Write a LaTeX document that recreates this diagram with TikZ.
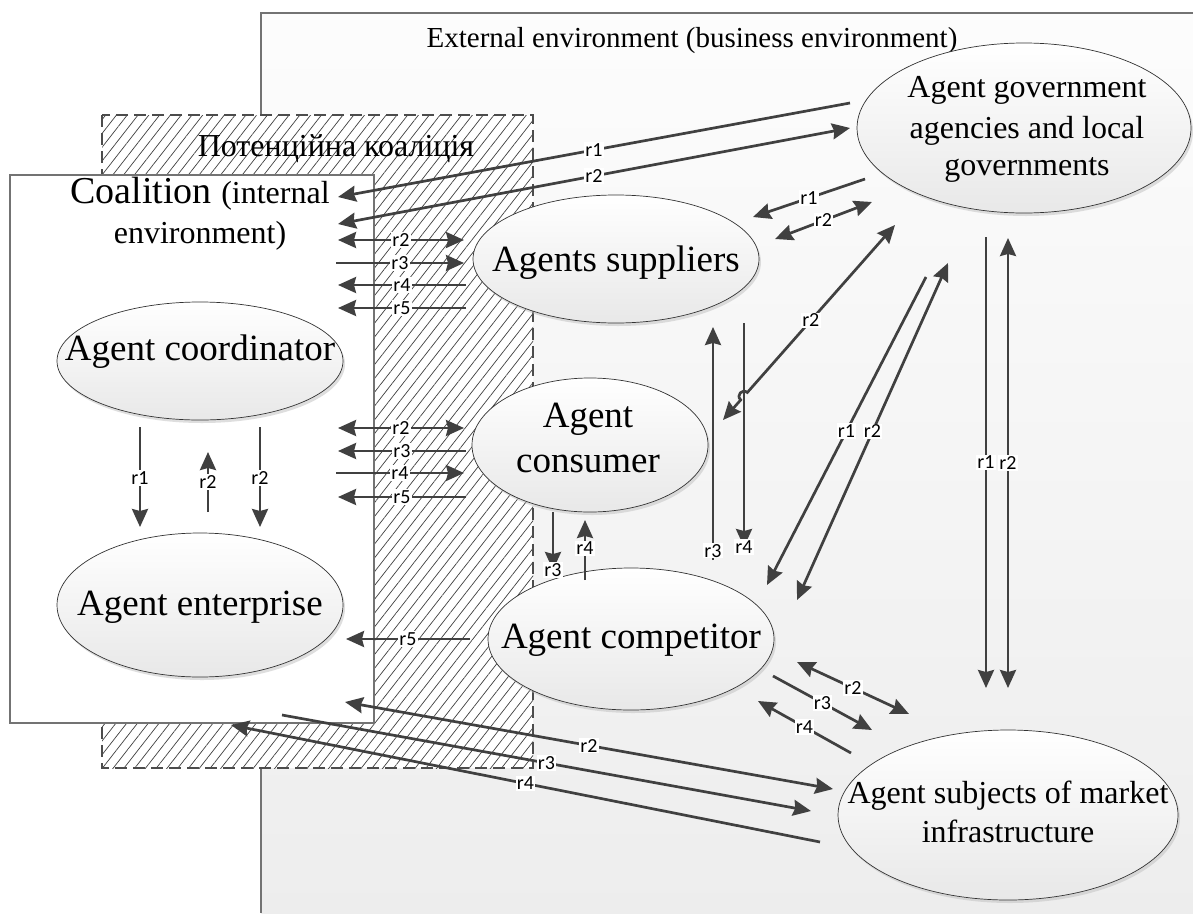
\documentclass[tikz,border=0pt]{standalone}
\usepackage{fontspec}
\setmainfont{Liberation Serif}
\newfontfamily\lblfont{Carlito}
\usetikzlibrary{shapes.geometric,arrows.meta,patterns.meta,shadows}
\definecolor{arr}{HTML}{404040}
\begin{document}
\begin{tikzpicture}[x=1pt,y=-1pt,
  >={Stealth[length=18pt,width=16pt,inset=2pt]},
  conn/.style={draw=arr,line width=2.7pt},
  lbl/.style={fill=white,inner sep=1.2pt,font=\lblfont\fontsize{20}{20}\selectfont,text=black},
  agent/.style={ellipse,draw=black!80,line width=0.7pt,top color=white,bottom color=black!9,inner sep=0pt,
    drop shadow={shadow xshift=2pt,shadow yshift=-3pt,fill=black!25,opacity=0.5}},
  bigtxt/.style={font=\fontsize{37}{44}\selectfont,inner sep=0pt,anchor=base},
  midtxt/.style={font=\fontsize{32}{39}\selectfont,inner sep=0pt,anchor=base}]
\useasboundingbox (0,0) rectangle (1193,913);

% external environment
\fill[top color=black!1,bottom color=black!7] (261,13) rectangle (1193,913);
\draw[black!55,line width=1.2pt] (261,913) -- (261,13) -- (1193,13);
\node[font=\fontsize{29}{29}\selectfont,inner sep=0pt,anchor=base] (extT) at (692,47) {External environment (business environment)};

% potential coalition
\path[preaction={fill=white},pattern={Lines[angle=52,distance=8.5pt,line width=0.7pt]},pattern color=black!75]
  (102,115) rectangle (533,768);
\draw[black!70,line width=1.5pt,dash pattern=on 12pt off 6pt] (102,115) rectangle (533,768);
\node[font=\fontsize{32}{32}\selectfont,inner sep=0pt,anchor=base] (potT) at (336,156) {Потенційна коаліція};

% coalition
\draw[black!55,line width=1.1pt,fill=white] (10,175) rectangle (374,723);
\node[inner sep=0pt,anchor=base] (coalT1) at (200,203) {\fontsize{38}{38}\selectfont Coalition \fontsize{32}{32}\selectfont(internal};
\node[inner sep=0pt,anchor=base,font=\fontsize{32}{32}\selectfont] (coalT2) at (200,243) {environment)};

% agents
\node[agent,minimum width=286pt,minimum height=118pt] (coord) at (200,361) {};
\node[bigtxt] (coordT) at (200,360) {Agent coordinator};
\node[agent,minimum width=286pt,minimum height=144pt] (ent) at (200,605) {};
\node[bigtxt] (entT) at (200,615) {Agent enterprise};
\node[agent,minimum width=286pt,minimum height=128pt] (sup) at (616,259) {};
\node[bigtxt] (supT) at (616,271) {Agents suppliers};
\node[agent,minimum width=236pt,minimum height=134pt] (cons) at (590,445) {};
\node[bigtxt] (consT1) at (588,427) {Agent};
\node[bigtxt] (consT2) at (588,472) {consumer};
\node[agent,minimum width=286pt,minimum height=142pt] (comp) at (631,639) {};
\node[bigtxt] (compT) at (631,648) {Agent competitor};
\node[agent,minimum width=334pt,minimum height=170pt] (gov) at (1024,128) {};
\node[midtxt] (govT1) at (1027,97) {Agent government};
\node[midtxt] (govT2) at (1027,138) {agencies and local};
\node[midtxt] (govT3) at (1027,175) {governments};
\node[agent,minimum width=340pt,minimum height=170pt] (mkt) at (1008,815) {};
\node[midtxt] (mktT1) at (1008,803) {Agent subjects of market};
\node[midtxt] (mktT2) at (1008,842) {infrastructure};

% connector end points
\coordinate (gA1) at (850,103);  \coordinate (cA1) at (338,197);
\coordinate (gA2) at (850,128);  \coordinate (cA2) at (338,224);
\coordinate (cS2) at (338,240);  \coordinate (sC2) at (464,240);
\coordinate (cS3) at (336,263);  \coordinate (sC3) at (464,263);
\coordinate (cS4) at (338,285);  \coordinate (sC4) at (466,285);
\coordinate (cS5) at (338,308);  \coordinate (sC5) at (466,308);
\coordinate (cK2) at (338,428);  \coordinate (kC2) at (464,428);
\coordinate (cK3) at (338,451);  \coordinate (kC3) at (466,451);
\coordinate (cK4) at (336,473);  \coordinate (kC4) at (464,473);
\coordinate (cK5) at (338,497);  \coordinate (kC5) at (466,497);
\coordinate (pE5) at (470,639);  \coordinate (eP5) at (346,639);
\coordinate (oE1) at (140,427);  \coordinate (eO1) at (140,527);
\coordinate (eO2) at (208,512);  \coordinate (oE2) at (208,452);
\coordinate (oE3) at (260,427);  \coordinate (eO3) at (260,527);
\coordinate (gS1) at (865,179);  \coordinate (sG1) at (753,217);
\coordinate (sG2) at (775,239);  \coordinate (gS2) at (872,202);
\coordinate (gK2) at (895,225);  \coordinate (kG2) at (723,420);
\coordinate (h1) at (747.3,392.5); \coordinate (h1c) at (742.3,388.1);
\coordinate (h2) at (740.7,399.9); \coordinate (h2c) at (735.7,395.5);
\coordinate (pS3) at (713,560);  \coordinate (sP3) at (713,327);
\coordinate (sP4) at (744,323);  \coordinate (pS4) at (744,547);
\coordinate (kP3) at (553,512);  \coordinate (pK3) at (553,570);
\coordinate (pK4) at (585,580);  \coordinate (kP4) at (585,520);
\coordinate (gP1) at (926,277);  \coordinate (pG1) at (767,585);
\coordinate (pG2) at (797,600);  \coordinate (gP2) at (948,263);
\coordinate (gM1) at (986,237);  \coordinate (mG1) at (986,688);
\coordinate (gM2) at (1008,238); \coordinate (mG2) at (1008,688);
\coordinate (pM2) at (797,662);  \coordinate (mP2) at (909,714);
\coordinate (pM3) at (773,676);  \coordinate (mP3) at (872,730);
\coordinate (mP4) at (851,753);  \coordinate (pM4) at (758,701);
\coordinate (cM2) at (345,702);  \coordinate (mC2) at (833,789);
\coordinate (cM3) at (282,715);  \coordinate (mC3) at (811,811);
\coordinate (mC4) at (820,842);  \coordinate (cM4) at (231,725);

% government <-> coalition
\draw[conn,->] (gA1) -- node[lbl,pos=0.5]{r1} (cA1);
\draw[conn,<->] (cA2) -- node[lbl,pos=0.5]{r2} (gA2);
% coalition <-> suppliers
\draw[conn,<->] (cS2) -- node[lbl,pos=0.5]{r2} (sC2);
\draw[conn,->] (cS3) -- node[lbl,pos=0.5]{r3} (sC3);
\draw[conn,->] (sC4) -- node[lbl,pos=0.5]{r4} (cS4);
\draw[conn,->] (sC5) -- node[lbl,pos=0.5]{r5} (cS5);
% coalition <-> consumer
\draw[conn,<->] (cK2) -- node[lbl,pos=0.5]{r2} (kC2);
\draw[conn,->] (kC3) -- node[lbl,pos=0.5]{r3} (cK3);
\draw[conn,->] (cK4) -- node[lbl,pos=0.5]{r4} (kC4);
\draw[conn,->] (kC5) -- node[lbl,pos=0.5]{r5} (cK5);
% competitor -> enterprise
\draw[conn,->] (pE5) -- node[lbl,pos=0.5]{r5} (eP5);
% coordinator <-> enterprise
\draw[conn,->] (oE1) -- node[lbl,pos=0.51]{r1} (eO1);
\draw[conn,->] (eO2) -- node[lbl,pos=0.5]{r2} (oE2);
\draw[conn,->] (oE3) -- node[lbl,pos=0.51]{r2} (eO3);
% government <-> suppliers
\draw[conn,->] (gS1) -- node[lbl,pos=0.5]{r1} (sG1);
\draw[conn,<->] (sG2) -- node[lbl,pos=0.5]{r2} (gS2);
% suppliers <-> competitor
\draw[conn,->] (pS3) -- node[lbl,pos=0.04]{r3} (sP3);
\draw[conn,->] (sP4) -- node[lbl,pos=1]{r4} (pS4);
% government <-> consumer (with hop)
\draw[conn,<->] (gK2) -- node[lbl,pos=0.57]{r2} (h1) .. controls (h1c) and (h2c) .. (h2) -- (kG2);
% consumer <-> competitor
\draw[conn,->] (kP3) -- node[lbl,pos=1]{r3} (pK3);
\draw[conn,->] (pK4) -- node[lbl,pos=0.53]{r4} (kP4);
% government <-> competitor
\draw[conn,->] (gP1) -- node[lbl,pos=0.5]{r1} (pG1);
\draw[conn,<->] (pG2) -- node[lbl,pos=0.5]{r2} (gP2);
% government <-> market
\draw[conn,->] (gM1) -- node[lbl,pos=0.5]{r1} (mG1);
\draw[conn,<->] (gM2) -- node[lbl,pos=0.5]{r2} (mG2);
% competitor <-> market
\draw[conn,<->] (pM2) -- node[lbl,pos=0.5]{r2} (mP2);
\draw[conn,->] (pM3) -- node[lbl,pos=0.5]{r3} (mP3);
\draw[conn,->] (mP4) -- node[lbl,pos=0.5]{r4} (pM4);
% market <-> coalition
\draw[conn,<->] (cM2) -- node[lbl,pos=0.5]{r2} (mC2);
\draw[conn,->] (cM3) -- node[lbl,pos=0.5]{r3} (mC3);
\draw[conn,->] (mC4) -- node[lbl,pos=0.5]{r4} (cM4);
\end{tikzpicture}
\end{document}
